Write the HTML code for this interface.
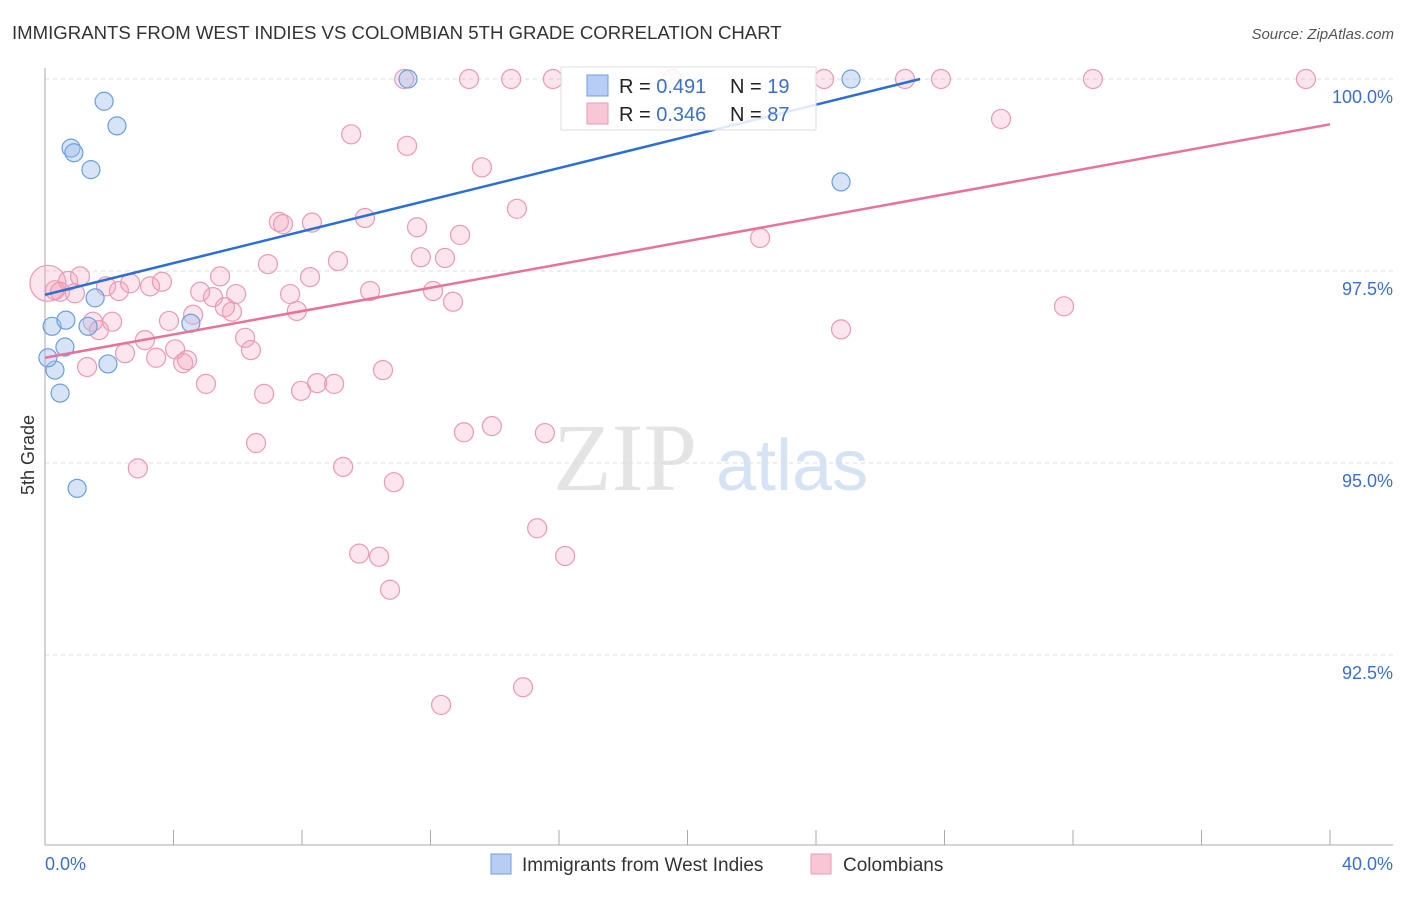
<!DOCTYPE html>
<html><head><meta charset="utf-8"><style>
body{margin:0;background:#fff;font-family:"Liberation Sans",sans-serif}
</style></head><body>
<svg id="chart" width="1406" height="892" xmlns="http://www.w3.org/2000/svg" font-family="Liberation Sans, sans-serif">
<text x="12" y="39" font-size="18.6" fill="#333">IMMIGRANTS FROM WEST INDIES VS COLOMBIAN 5TH GRADE CORRELATION CHART</text>
<text x="1394" y="39" font-size="15" fill="#555" text-anchor="end" font-style="italic">Source: ZipAtlas.com</text>
<text x="553" y="490" font-size="96" fill="#e4e4e4" font-family="Liberation Serif, serif">ZIP</text>
<text x="716" y="490" font-size="72" fill="#d5e3f5">atlas</text>
<text transform="translate(34,455) rotate(-90)" font-size="18" fill="#333" text-anchor="middle">5th Grade</text>
<g id="grid"></g><g id="pts"></g><g id="lines"></g>
<g>
<rect x="561" y="67" width="255" height="63" fill="#fff" fill-opacity="0.85" stroke="#ddd"/>
<rect x="587" y="75" width="21" height="21" fill="#b7cdf3" stroke="#6c9ee0"/>
<rect x="587" y="103" width="21" height="21" fill="#f9c6d5" stroke="#eb9ab5"/>
<text x="619" y="93" font-size="20" fill="#222">R = <tspan fill="#3b6fcf">0.491</tspan><tspan x="730">N = </tspan><tspan fill="#3b6fcf">19</tspan></text>
<text x="619" y="121" font-size="20" fill="#222">R = <tspan fill="#3b6fcf">0.346</tspan><tspan x="730">N = </tspan><tspan fill="#3b6fcf">87</tspan></text>
</g>
<g>
<rect x="491" y="854" width="20" height="20" fill="#b7cdf3" stroke="#6c9ee0"/>
<text x="522" y="871" font-size="19" fill="#333">Immigrants from West Indies</text>
<rect x="811" y="854" width="20" height="20" fill="#f9c6d5" stroke="#eb9ab5"/>
<text x="843" y="871" font-size="19" fill="#333">Colombians</text>
</g>
<text x="45" y="870" font-size="18" fill="#3b6fcf">0.0%</text>
<text x="1393" y="870" font-size="18" fill="#3b6fcf" text-anchor="end">40.0%</text>
</svg>
<script>
const yTicks=[100,97.5,95,92.5];
const yTickLabels=["100.0%","97.5%","95.0%","92.5%"];
const xTicks=[4,8,12,16,20,24,28,32,36,40];
const blueX=[0.22,0.31,0.47,0.62,0.65,1.0,0.81,0.90,1.34,1.43,1.56,1.84,1.96,2.24,4.54,11.3,24.78,25.09,0.09];
const blueY=[96.78,96.21,95.91,96.51,96.86,94.67,99.10,99.04,96.78,98.82,97.15,99.71,96.29,99.39,96.82,100,98.66,100,96.37];
const pinkX=[0.09,0.31,0.47,0.72,0.93,1.09,1.31,1.49,1.68,1.90,2.09,2.30,2.49,2.65,2.89,3.11,3.27,3.46,3.64,3.86,4.05,4.30,4.42,4.61,4.83,5.01,5.23,5.45,5.60,5.82,5.95,6.23,6.41,6.57,6.82,6.94,7.28,7.41,7.63,7.84,7.97,8.25,8.31,8.47,9.00,9.12,9.28,9.53,9.78,9.96,10.12,10.40,10.52,10.74,10.86,11.18,11.27,11.58,11.70,12.08,12.33,12.45,12.70,12.92,13.04,13.20,13.60,13.91,14.51,14.69,14.88,15.32,15.56,15.81,16.19,19.52,22.26,24.25,24.78,26.77,27.89,29.76,31.72,32.62,39.25];
const pinkY=[97.34,97.25,97.23,97.37,97.21,97.43,96.25,96.84,96.73,97.30,96.84,97.24,96.43,97.34,94.93,96.60,97.30,96.37,97.36,96.85,96.48,96.30,96.34,96.93,97.23,96.03,97.16,97.43,97.03,96.97,97.20,96.63,96.47,95.26,95.90,97.59,98.14,98.11,97.20,96.98,95.94,97.42,98.13,96.04,96.03,97.63,94.95,99.28,93.82,98.19,97.24,93.78,96.21,93.35,94.75,100,99.13,98.07,97.68,97.24,91.85,97.67,97.10,97.97,95.40,100,98.85,95.48,100,98.31,92.08,94.15,95.39,100,93.79,100,97.93,100,96.74,100,100,99.48,97.04,100,100];
const blueTrend=[[0,97.19],[27.24,100]];
const pinkTrend=[[0,96.37],[40,99.41]];
const NS="http://www.w3.org/2000/svg";
const X=v=>45+v*32.125, Y=v=>79+(100-v)*76.8;
function mk(t,a,p){const e=document.createElementNS(NS,t);for(const k in a)e.setAttribute(k,a[k]);p.appendChild(e);return e;}
const grid=document.getElementById('grid');
yTicks.forEach((t,i)=>{
 const l=mk('line',{x1:45,x2:1393,y1:Y(t),y2:Y(t),stroke:'#ddd','stroke-dasharray':'4,4'},grid);
 
 
 const tx=mk('text',{x:1393,y:Y(t)+24,'font-size':18,fill:'#3b6fcf','text-anchor':'end'},grid);
 tx.textContent=yTickLabels[i];
 
 
});
const ax=mk('line',{x1:45,x2:45,y1:68,y2:845,stroke:'#aaa'},grid);


const bx=mk('line',{x1:45,x2:1393,y1:845,y2:845,stroke:'#aaa'},grid);


xTicks.forEach(t=>{const l=mk('line',{x1:X(t),x2:X(t),y1:830,y2:845,stroke:'#aaa'},grid);
 
 });
const pts=document.getElementById('pts');
pinkX.forEach((v,i)=>{const c=mk('circle',{cx:X(v),cy:Y(pinkY[i]),r:i==0?18:9.5,fill:'#f4a0b9','fill-opacity':0.28,stroke:'#eb9ab5','stroke-width':1.2},pts);
 
 });
blueX.forEach((v,i)=>{const c=mk('circle',{cx:X(v),cy:Y(blueY[i]),r:9,fill:'#a0bfeb','fill-opacity':0.42,stroke:'#6c9ee0','stroke-width':1.2},pts);
 
 });
const lines=document.getElementById('lines');
const bl=mk('line',{x1:X(blueTrend[0][0]),y1:Y(blueTrend[0][1]),x2:X(blueTrend[1][0]),y2:Y(blueTrend[1][1]),stroke:'#2a6fd6','stroke-width':2.5},lines);


const pl=mk('line',{x1:X(pinkTrend[0][0]),y1:Y(pinkTrend[0][1]),x2:X(pinkTrend[1][0]),y2:Y(pinkTrend[1][1]),stroke:'#e8729a','stroke-width':2.5},lines);


</script>
</body></html>
